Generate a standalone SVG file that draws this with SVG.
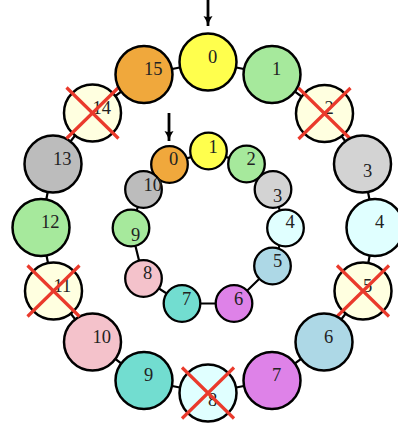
<svg xmlns="http://www.w3.org/2000/svg" width="398" height="427" viewBox="0 0 398 427">
<defs>
<style>
.o{stroke:#000;stroke-width:2.5}
.i{stroke:#000;stroke-width:2.3}
.t{font-family:"Liberation Serif","DejaVu Serif",serif;font-size:18.5px;fill:#222}
.c{stroke:#000;stroke-width:2.2}
.x{stroke:#ea3a2c;stroke-width:3.2;stroke-linecap:butt}
.a{stroke:#000;stroke-width:2.8}
</style>
<marker id="ah" markerUnits="userSpaceOnUse" markerWidth="12" markerHeight="12" viewBox="0 0 12 12" refX="10" refY="6" orient="auto">
<path d="M0,1.5 Q5,5 10,6 Q5,7 0,10.5 Q2,6 0,1.5 Z" fill="#000"/>
</marker>
</defs>
<rect width="398" height="427" fill="#fff"/>
<g id="connectors">
<polyline class="c" fill="none" points="208,62 272,74.5 324.5,113.5 362.5,164 375,227.5 363,291 324,342 272,380.5 208,393 144,380.5 92.5,342 53.5,291 41,227.5 53,164 92.5,113 144,74.5 208,62"/>
<polyline class="c" fill="none" points="169.5,164.5 208.5,151 246.5,164 273,189.5 285.5,228 272.5,266 234,303.5 182,303.5 143.5,278.5 131,228 143.5,189.5 169.5,164.5"/>
<line class="a" x1="208" y1="0" x2="208" y2="26" marker-end="url(#ah)"/>
<line class="a" x1="169" y1="113" x2="169" y2="141" marker-end="url(#ah)"/>
</g>
<g id="outer-0"><circle class="o" cx="208" cy="62" r="28.5" fill="#ffff4d"/><text class="t" x="208" y="62.5">0</text></g>
<g id="outer-1"><circle class="o" cx="272" cy="74.5" r="28.5" fill="#a6e99c"/><text class="t" x="272" y="75">1</text></g>
<g id="outer-2"><circle class="o" cx="324.5" cy="113.5" r="28.5" fill="#ffffe0"/><text class="t" x="324.5" y="114">2</text><path class="x" d="M298.5,88 L350.5,139 M350.5,88 L298.5,139"/></g>
<g id="outer-3"><circle class="o" cx="362.5" cy="164" r="28.5" fill="#d3d3d3"/><text class="t" x="363" y="177">3</text></g>
<g id="outer-4"><circle class="o" cx="375" cy="227.5" r="28.5" fill="#e0ffff"/><text class="t" x="375" y="228">4</text></g>
<g id="outer-5"><circle class="o" cx="363" cy="291" r="28.5" fill="#ffffe0"/><text class="t" x="363" y="292">5</text><path class="x" d="M337,265.5 L389,316.5 M389,265.5 L337,316.5"/></g>
<g id="outer-6"><circle class="o" cx="324" cy="342" r="28.5" fill="#add8e6"/><text class="t" x="324" y="342.5">6</text></g>
<g id="outer-7"><circle class="o" cx="272" cy="380.5" r="28.5" fill="#de82e8"/><text class="t" x="272" y="381">7</text></g>
<g id="outer-8"><circle class="o" cx="208" cy="393" r="28.5" fill="#e0ffff"/><text class="t" x="208" y="406">8</text><path class="x" d="M182,367.5 L234,418.5 M234,367.5 L182,418.5"/></g>
<g id="outer-9"><circle class="o" cx="144" cy="380.5" r="28.5" fill="#72ddd0"/><text class="t" x="144" y="381">9</text></g>
<g id="outer-10"><circle class="o" cx="92.5" cy="342" r="28.5" fill="#f4c2cb"/><text class="t" x="92.5" y="342.5">10</text></g>
<g id="outer-11"><circle class="o" cx="53.5" cy="291" r="28.5" fill="#ffffe0"/><text class="t" x="53.5" y="292">11</text><path class="x" d="M27.5,265.5 L79.5,316.5 M79.5,265.5 L27.5,316.5"/></g>
<g id="outer-12"><circle class="o" cx="41" cy="227.5" r="28.5" fill="#a6e99c"/><text class="t" x="41" y="228">12</text></g>
<g id="outer-13"><circle class="o" cx="53" cy="164" r="28.5" fill="#bcbcbc"/><text class="t" x="53" y="164.5">13</text></g>
<g id="outer-14"><circle class="o" cx="92.5" cy="113" r="28.5" fill="#ffffe0"/><text class="t" x="92.5" y="113.5">14</text><path class="x" d="M66.5,87.5 L118.5,138.5 M118.5,87.5 L66.5,138.5"/></g>
<g id="outer-15"><circle class="o" cx="144" cy="74.5" r="28.5" fill="#f0a83c"/><text class="t" x="144" y="75">15</text></g>
<g id="inner-0"><circle class="i" cx="169.5" cy="164.5" r="18.3" fill="#f0a83c"/><text class="t" x="169" y="165">0</text></g>
<g id="inner-1"><circle class="i" cx="208.5" cy="151" r="18.3" fill="#ffff4d"/><text class="t" x="208.5" y="153">1</text></g>
<g id="inner-2"><circle class="i" cx="246.5" cy="164" r="18.3" fill="#a6e99c"/><text class="t" x="246.5" y="165">2</text></g>
<g id="inner-3"><circle class="i" cx="273" cy="189.5" r="18.3" fill="#d3d3d3"/><text class="t" x="273" y="202">3</text></g>
<g id="inner-4"><circle class="i" cx="285.5" cy="228" r="18.3" fill="#e0ffff"/><text class="t" x="285.5" y="228">4</text></g>
<g id="inner-5"><circle class="i" cx="272.5" cy="266" r="18.3" fill="#add8e6"/><text class="t" x="273" y="267">5</text></g>
<g id="inner-6"><circle class="i" cx="234" cy="303.5" r="18.3" fill="#de82e8"/><text class="t" x="234" y="305">6</text></g>
<g id="inner-7"><circle class="i" cx="182" cy="303.5" r="18.3" fill="#72ddd0"/><text class="t" x="182" y="305">7</text></g>
<g id="inner-8"><circle class="i" cx="143.5" cy="278.5" r="18.3" fill="#f4c2cb"/><text class="t" x="143" y="278.5">8</text></g>
<g id="inner-9"><circle class="i" cx="131" cy="228" r="18.3" fill="#a6e99c"/><text class="t" x="131" y="241">9</text></g>
<g id="inner-10"><circle class="i" cx="143.5" cy="189.5" r="18.3" fill="#bcbcbc"/><text class="t" x="143.5" y="191">10</text></g>
</svg>
